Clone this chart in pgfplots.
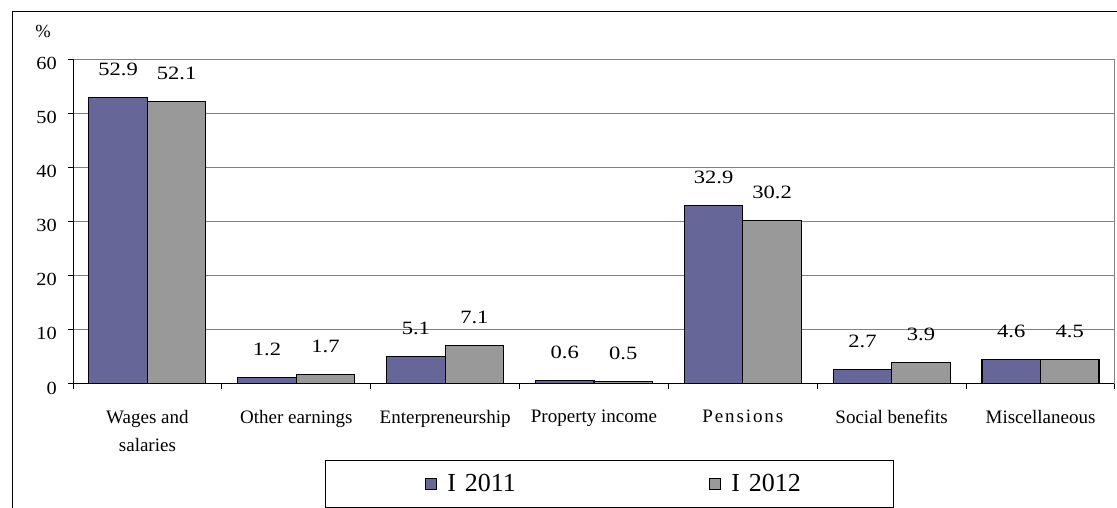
\documentclass[border=0pt]{standalone}
\usepackage{fontspec}
\setmainfont{Liberation Serif}
\newfontfamily\numfont{Liberation Serif}[FakeStretch=1.2]
\newfontfamily\tickfont{Liberation Serif}[FakeStretch=1.1]
\usepackage{pgfplots}
\pgfplotsset{compat=1.18}
\definecolor{barblue}{HTML}{666699}
\definecolor{bargray}{HTML}{999999}
\definecolor{gridgray}{HTML}{808080}
\begin{document}
\begin{tikzpicture}[x=1pt,y=1pt]
\useasboundingbox (0,0) rectangle (1117,508);
\fill[white] (0,0) rectangle (1117,508);
\draw[line width=1pt] (12,-5) -- (12,496) -- (1125,496);
\begin{axis}[
  at={(73pt,124pt)}, anchor=south west,
  scale only axis, width=1042pt, height=325pt,
  xmin=-0.5, xmax=6.5, ymin=0, ymax=60,
  enlargelimits=false,
  axis x line*=bottom, axis y line*=left,
  axis line style={line width=1pt, black},
  tick align=outside,
  ytick={0,10,...,60},
  ymajorgrids, grid style={gridgray, line width=1pt},
  major tick length=5pt, minor tick length=5pt,
  major y tick style={black, line width=1pt},
  xtick={0,...,6},
  major x tick style={draw=none},
  minor xtick={-0.5,0.5,...,6.5},
  minor x tick style={black, line width=1pt},
  xticklabels={{Wages and\\salaries},Other earnings,Enterpreneurship,Property income,{\addfontfeatures{LetterSpace=10}Pensions},Social benefits,Miscellaneous},
  xticklabel style={font=\fontsize{19}{28}\selectfont, align=center, anchor=north, inner sep=0pt, yshift=-21pt},
  yticklabel style={font=\tickfont\fontsize{18.5}{20}\selectfont, anchor=east, inner sep=0pt, xshift=-11pt, yshift=-4pt},
  /pgf/number format/assume math mode=true,
  ybar=0pt, bar width=58.5pt,
  nodes near coords,
  every node near coord/.append style={font=\numfont\fontsize{18.8}{20}\selectfont, anchor=base, inner sep=0pt, yshift=22pt, black},
  ylabel={\%},
  ylabel style={rotate=-90, at={(axis description cs:0,1)}, anchor=center, xshift=-30pt, yshift=28pt, font=\fontsize{18.5}{20}\selectfont},
  legend columns=2,
  legend style={at={(0.24184,-0.2338)}, anchor=north west, draw=black, line width=1pt, inner xsep=0pt, inner ysep=14pt, font=\fontsize{26}{30}\selectfont, /tikz/every even column/.style={column sep=0pt}, nodes={inner sep=0pt, text width=162pt, align=left}},
  legend image code/.code={\path[draw=none, fill=none] (-100pt,0pt) -- (22pt,0pt); \draw[#1, draw=black, line width=1pt] (0pt,-5.5pt) rectangle (11pt,5.5pt);},
]
\addplot[fill=barblue, draw=black, line width=1.1pt] coordinates {(0,52.9) (1,1.2) (2,5.1) (3,0.6) (4,32.9) (5,2.7) (6,4.6)};
\addlegendentry{I 2011}
\addplot[fill=bargray, draw=black, line width=1.1pt] coordinates {(0,52.1) (1,1.7) (2,7.1) (3,0.5) (4,30.2) (5,3.9) (6,4.5)};
\addlegendentry{I 2012}
\draw[gridgray, line width=1pt] (axis cs:6.5,0) -- (axis cs:6.5,60);
\end{axis}
\end{tikzpicture}
\end{document}
